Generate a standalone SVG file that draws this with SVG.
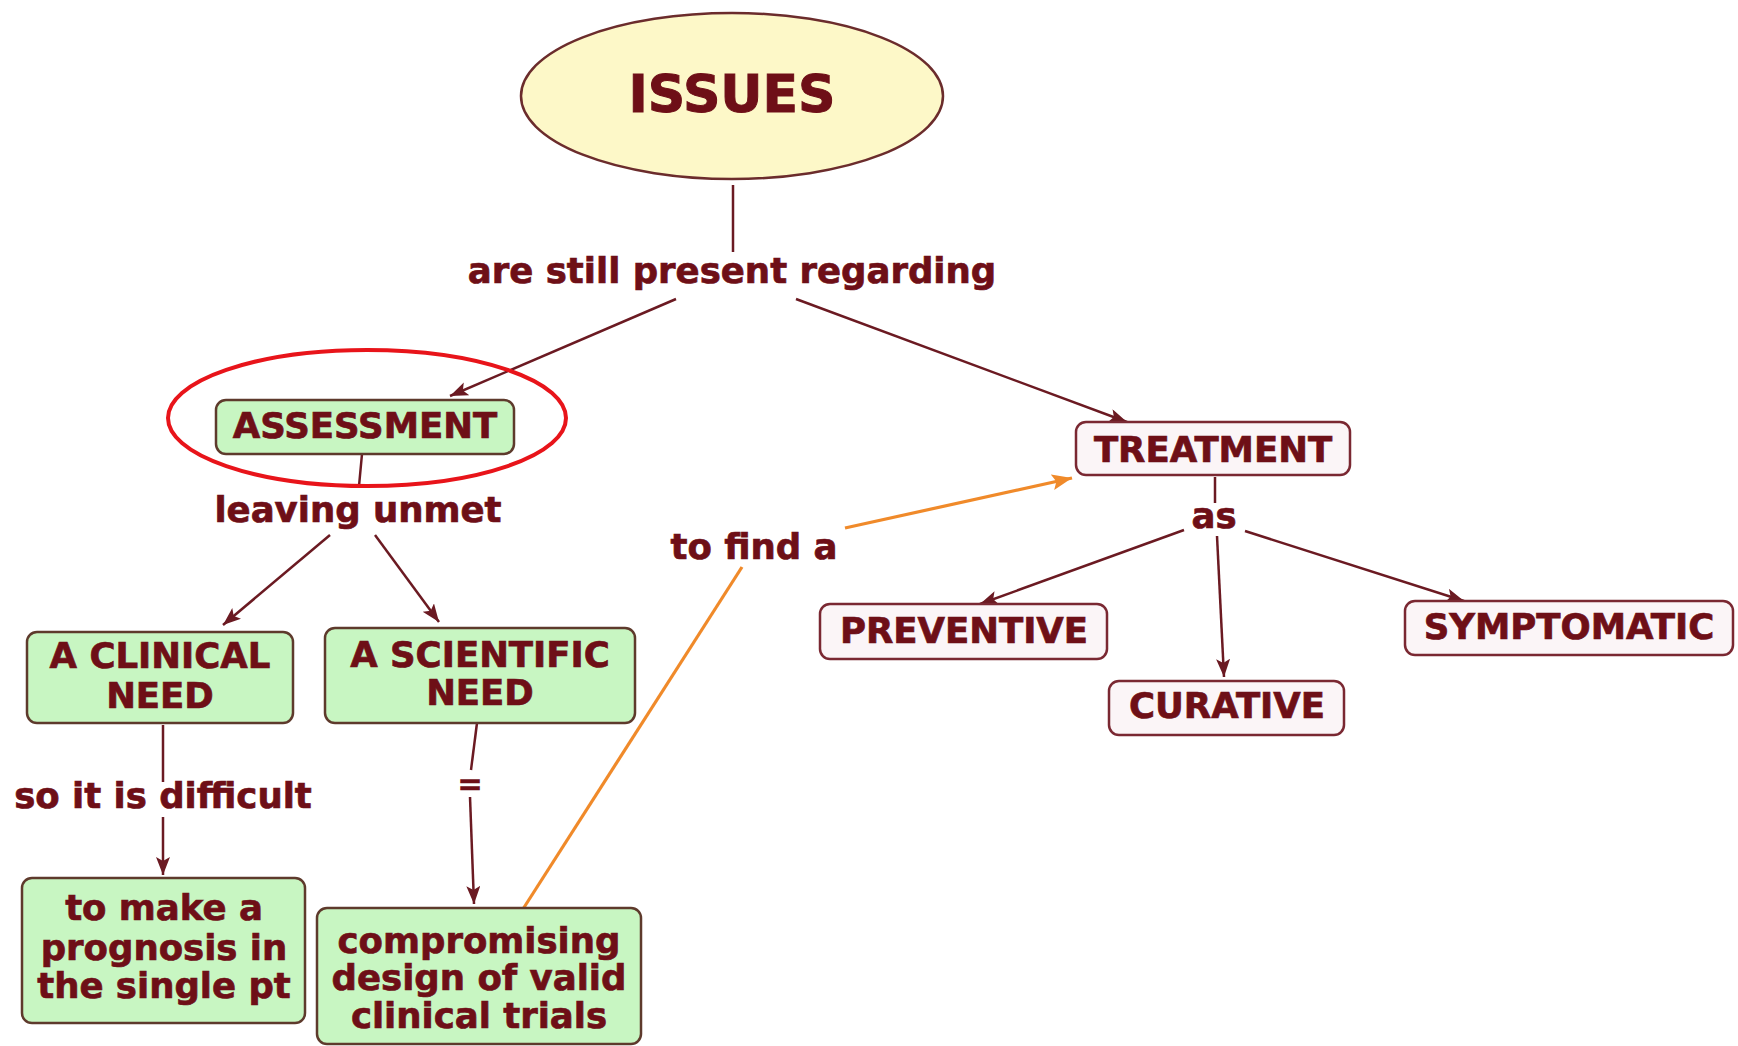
<svg xmlns="http://www.w3.org/2000/svg" width="1738" height="1046" viewBox="0 0 1738 1046">
<style>
text{font-family:"DejaVu Sans",Verdana,sans-serif;font-weight:bold;fill:#6e0f17;stroke:#6e0f17;stroke-width:0.7;text-anchor:middle;font-size:35.5px}
.g{fill:#c8f6c2;stroke:#5e3a2c;stroke-width:2.5}
.w{fill:#fbf5f7;stroke:#7a2832;stroke-width:2.5}
.c{stroke:#6b1a22;stroke-width:2.5;fill:none}
.o{stroke:#f08a2a;stroke-width:3.2;fill:none}
</style>
<defs>
<marker id="ah" markerUnits="userSpaceOnUse" markerWidth="20" markerHeight="16" refX="18" refY="7" orient="auto"><path d="M0,0 L18,7 L0,14 L4,7 Z" fill="#6b1a22"/></marker>
<marker id="ao" markerUnits="userSpaceOnUse" markerWidth="22" markerHeight="18" refX="20" refY="8" orient="auto"><path d="M0,0 L20,8 L0,16 L4,8 Z" fill="#f08a2a"/></marker>
</defs>
<rect width="1738" height="1046" fill="#ffffff"/>
<g id="connectors">
<line class="c" x1="733" y1="185" x2="733" y2="252"/>
<line class="c" x1="676" y1="299" x2="450" y2="396" marker-end="url(#ah)"/>
<line class="c" x1="796" y1="299" x2="1127" y2="422" marker-end="url(#ah)"/>
<line class="c" x1="362" y1="454" x2="359" y2="486"/>
<line class="c" x1="330" y1="535" x2="223" y2="625" marker-end="url(#ah)"/>
<line class="c" x1="375" y1="535" x2="439" y2="622" marker-end="url(#ah)"/>
<line class="c" x1="163" y1="725" x2="163" y2="782"/>
<line class="c" x1="163" y1="817" x2="163" y2="875" marker-end="url(#ah)"/>
<line class="c" x1="477" y1="723" x2="471" y2="770"/>
<line class="c" x1="470" y1="797" x2="474" y2="904" marker-end="url(#ah)"/>
<line class="o" x1="523" y1="909" x2="742" y2="567"/>
<line class="o" x1="845" y1="528" x2="1072" y2="478" marker-end="url(#ao)"/>
<line class="c" x1="1215" y1="477" x2="1215" y2="503"/>
<line class="c" x1="1184" y1="530" x2="980" y2="604" marker-end="url(#ah)"/>
<line class="c" x1="1217" y1="536" x2="1224" y2="677" marker-end="url(#ah)"/>
<line class="c" x1="1245" y1="531" x2="1464" y2="601" marker-end="url(#ah)"/>
<text x="732" y="283">are still present regarding</text>
<text x="358" y="522">leaving unmet</text>
<text x="163" y="808">so it is difficult</text>
<text x="470" y="794" style="font-size:30px">=</text>
<text x="754" y="559">to find a</text>
<text x="1214" y="528">as</text>
</g>
<g id="issues">
<ellipse cx="732" cy="96" rx="211" ry="83" fill="#fdf8c8" stroke="#6b2c2c" stroke-width="2.5"/>
<text x="732" y="112" style="font-size:52px;stroke-width:1">ISSUES</text>
</g>
<g id="assessment">
<rect class="g" x="216" y="400" width="298" height="54" rx="10"/>
<text x="365" y="438">ASSESSMENT</text>
</g>
<g id="highlight">
<ellipse cx="367" cy="418" rx="199" ry="68" fill="none" stroke="#e8141a" stroke-width="4"/>
</g>
<g id="treatment">
<rect class="w" x="1076" y="422" width="274" height="53" rx="10"/>
<text x="1213" y="462">TREATMENT</text>
</g>
<g id="preventive">
<rect class="w" x="820" y="604" width="287" height="55" rx="10"/>
<text x="964" y="643">PREVENTIVE</text>
</g>
<g id="symptomatic">
<rect class="w" x="1405" y="601" width="328" height="54" rx="10"/>
<text x="1569" y="639">SYMPTOMATIC</text>
</g>
<g id="curative">
<rect class="w" x="1109" y="681" width="235" height="54" rx="10"/>
<text x="1227" y="718">CURATIVE</text>
</g>
<g id="clinical-need">
<rect class="g" x="27" y="632" width="266" height="91" rx="10"/>
<text x="160" y="668">A CLINICAL</text>
<text x="160" y="708">NEED</text>
</g>
<g id="scientific-need">
<rect class="g" x="325" y="628" width="310" height="95" rx="10"/>
<text x="480" y="667">A SCIENTIFIC</text>
<text x="480" y="705">NEED</text>
</g>
<g id="prognosis">
<rect class="g" x="22" y="878" width="283" height="145" rx="10"/>
<text x="164" y="920">to make a</text>
<text x="164" y="960">prognosis in</text>
<text x="164" y="998">the single pt</text>
</g>
<g id="compromising">
<rect class="g" x="317" y="908" width="324" height="136" rx="10"/>
<text x="479" y="953">compromising</text>
<text x="479" y="990">design of valid</text>
<text x="479" y="1028">clinical trials</text>
</g>
</svg>
